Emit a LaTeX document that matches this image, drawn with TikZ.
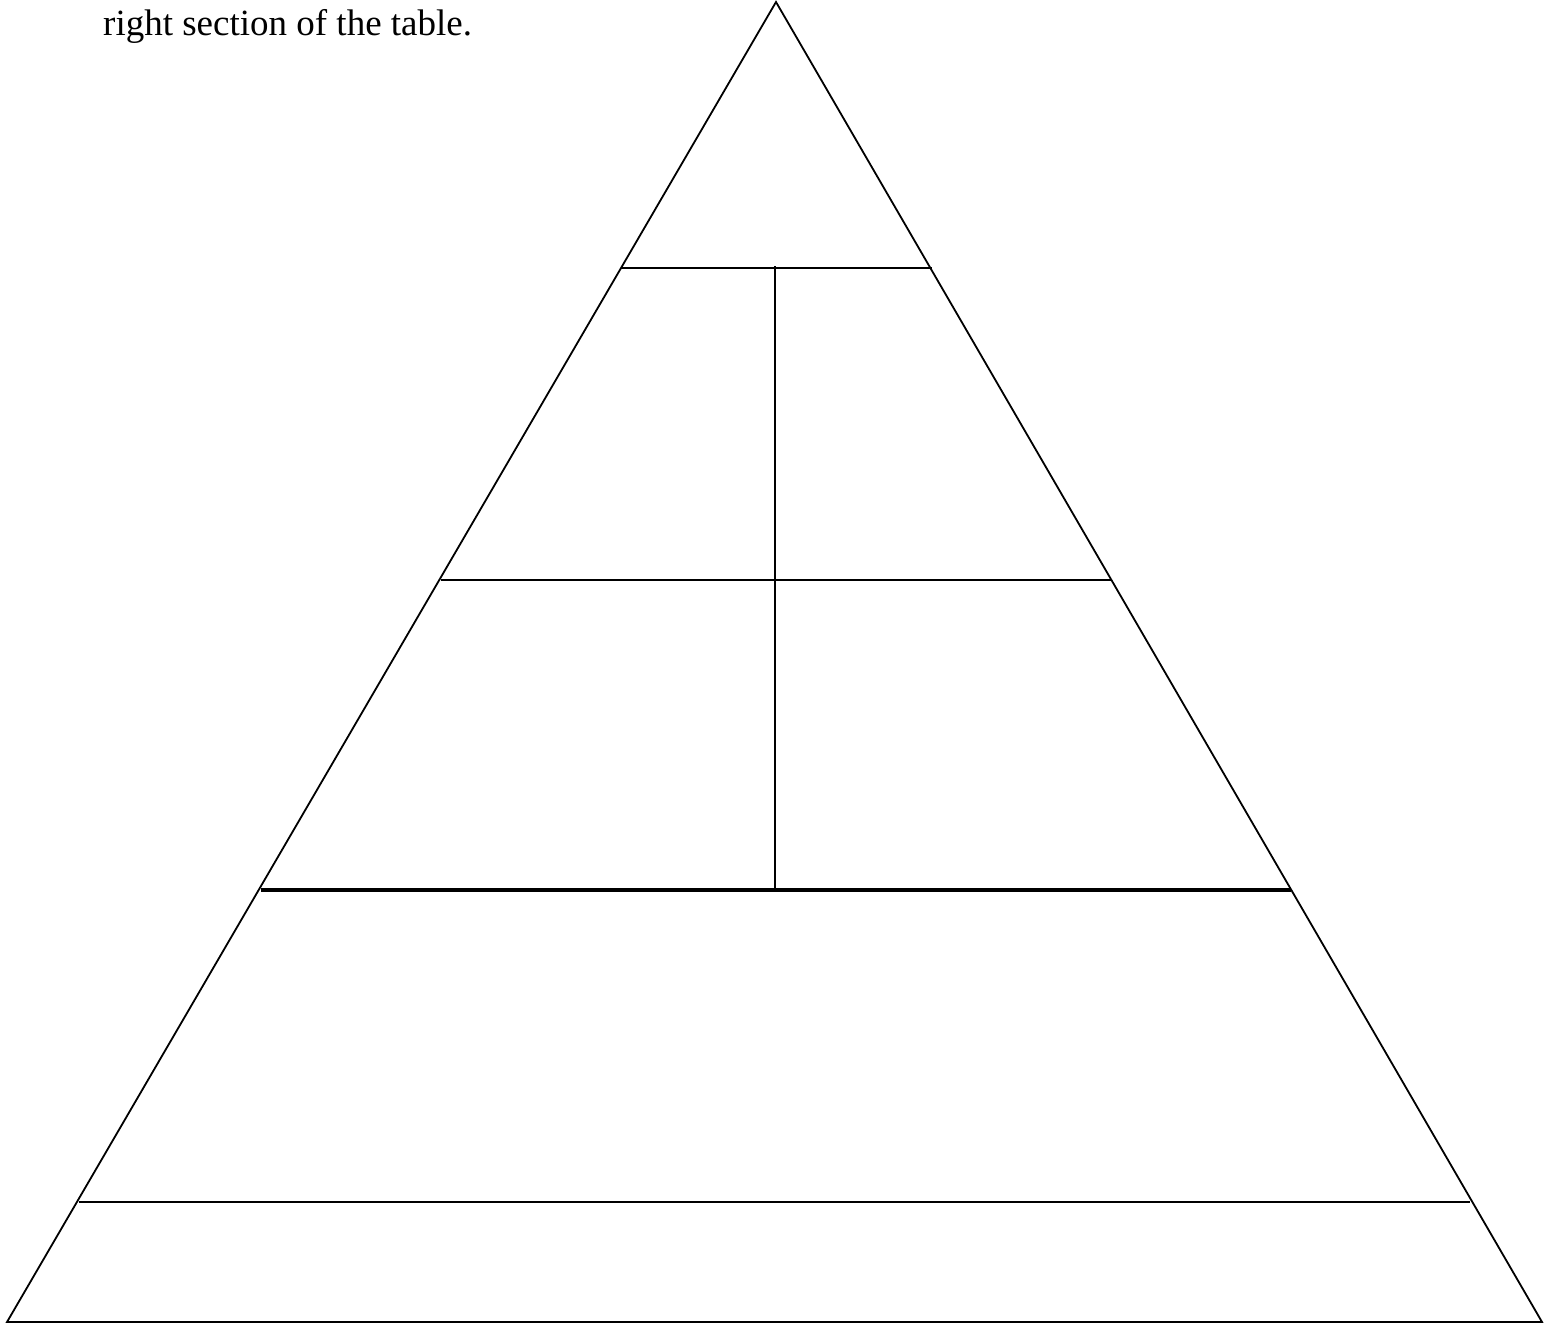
\documentclass[tikz,border=0pt]{standalone}
\usepackage{fontspec}
\setmainfont{Liberation Serif}
\begin{document}
\begin{tikzpicture}[x=1pt,y=-1pt,
  edge/.style={line width=1.8pt,black},
  thickedge/.style={line width=3.4pt,black},
  caption/.style={anchor=base west,inner sep=0pt,font=\fontsize{37}{42}\selectfont}]
\useasboundingbox (0,0) rectangle (1546,1324);
\coordinate (apex) at (776,2);
\coordinate (bl) at (7,1322);
\coordinate (br) at (1542,1322);
\draw[edge,line join=miter] (apex) -- (bl) -- (br) -- cycle;
\draw[edge] (621,268) -- (932,268);
\draw[edge] (441,580) -- (1111,580);
\draw[thickedge] (261,890) -- (1291,890);
\draw[edge] (79,1202) -- (1470,1202);
\draw[edge] (775,266) -- (775,890);
\node[caption] (txt) at (103,36) {right section of the table.};
\end{tikzpicture}
\end{document}
